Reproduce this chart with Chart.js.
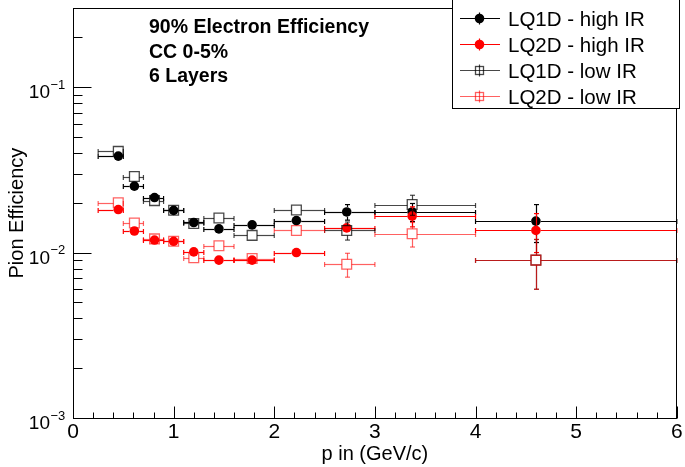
<!DOCTYPE html>
<html><head><meta charset="utf-8">
<script src="https://cdn.jsdelivr.net/npm/chart.js@4.4.1/dist/chart.umd.min.js"></script>
<style>html,body{margin:0;padding:0;background:#fff;}canvas{display:block;}</style>
</head><body>
<canvas id="c" width="685" height="467"></canvas>
<script>
// ---------------- data ----------------
const binEdges = [0.25, 0.5, 0.7, 0.9, 1.1, 1.3, 1.6, 2.0, 2.5, 3.0, 4.0, 6.0];
const pMean    = [0.45, 0.61, 0.81, 1.0, 1.2, 1.45, 1.78, 2.22, 2.72, 3.37, 4.6];

const lq1dHigh    = [0.0383, 0.0252, 0.0215, 0.0180, 0.0152, 0.0139, 0.0147, 0.0156, 0.0176, 0.0176, 0.0155];
const lq1dHighErr = [0.0006, 0.0004, 0.0003, 0.0003, 0.0003, 0.0003, 0.0004, 0.0006, 0.0019, 0.0022, 0.0040];
const lq2dHigh    = [0.0182, 0.0135, 0.0119, 0.0117, 0.0101, 0.0090, 0.0090, 0.0100, 0.0141, 0.0166, 0.0136];
const lq2dHighErr = [0.0004, 0.0003, 0.0003, 0.0003, 0.0003, 0.0003, 0.0004, 0.0005, 0.0009, 0.0023, 0.0036];
const lq1dLow     = [0.0409, 0.0288, 0.0206, 0.0180, 0.0150, 0.0162, 0.0127, 0.0181, 0.0136, 0.0195, 0.0090];
const lq1dLowErr  = [0.0008, 0.0006, 0.0004, 0.0004, 0.0004, 0.0004, 0.0005, 0.0007, 0.0017, 0.0027, 0.0030];
const lq2dLow     = [0.0200, 0.0151, 0.0121, 0.0117, 0.0093, 0.0110, 0.0092, 0.0136, 0.0085, 0.0130, 0.0090];
const lq2dLowErr  = [0.0006, 0.0005, 0.0004, 0.0004, 0.0004, 0.0004, 0.0005, 0.0006, 0.0014, 0.0022, 0.0030];

const seriesLabels = ['LQ1D - high IR', 'LQ2D - high IR', 'LQ1D - low IR', 'LQ2D - low IR'];
const xTickValues = [0, 1, 2, 3, 4, 5, 6];
const yDecades = [0.001, 0.01, 0.1];
const yDecadeExponents = ['\u22123', '\u22122', '\u22121'];
const infoLines = ['90% Electron Efficiency', 'CC 0-5%', '6 Layers'];
const xTitle = 'p in (GeV/c)';
const yTitle = 'Pion Efficiency';

// ---------------- styles ----------------
const FONT = "'Liberation Sans', Arial, Helvetica, sans-serif";
const BLACK = '#000000', RED = '#ff0000';
const BLACK_A = 'rgba(0,0,0,0.72)', RED_A = 'rgba(255,0,0,0.62)';

function toPoints(vals) { return vals.map((v, i) => ({x: pMean[i], y: v})); }

function mkSet(label, vals, errs, color, filled, order) {
  return {
    label, data: toPoints(vals), yErr: errs,
    showLine: false,
    pointStyle: filled ? 'circle' : 'rect',
    pointRadius: filled ? 4.8 : 6.9,
    pointHoverRadius: filled ? 4.8 : 6.9,
    pointBackgroundColor: filled ? color : 'rgba(0,0,0,0)',
    pointBorderColor: color,
    pointBorderWidth: filled ? 0 : 1.3,
    borderColor: color, backgroundColor: color,
    markerHalf: filled ? 4.8 : 4.9,
    filled, order
  };
}

const datasets = [
  mkSet(seriesLabels[0], lq1dHigh, lq1dHighErr, BLACK, true, 4),
  mkSet(seriesLabels[1], lq2dHigh, lq2dHighErr, RED, true, 3),
  mkSet(seriesLabels[2], lq1dLow, lq1dLowErr, BLACK_A, false, 2),
  mkSet(seriesLabels[3], lq2dLow, lq2dLowErr, RED_A, false, 1)
];

function seg(ctx, x1, y1, x2, y2) { ctx.beginPath(); ctx.moveTo(x1, y1); ctx.lineTo(x2, y2); ctx.stroke(); }

const rootStyle = {
  id: 'rootStyle',
  beforeDatasetDraw(chart, args) {
    const ctx = chart.ctx;
    const ds = chart.data.datasets[args.index];
    const meta = args.meta;
    const xs = chart.scales.x, ys = chart.scales.y;
    const g = ds.markerHalf;
    ctx.save();
    ctx.strokeStyle = ds.borderColor;
    ctx.lineWidth = 1.2;
    meta.data.forEach((pt, j) => {
      const px = pt.x, py = Math.round(pt.y) + 0.5;
      const xl = xs.getPixelForValue(binEdges[j]);
      const xr = xs.getPixelForValue(binEdges[j + 1]);
      const v = ds.data[j].y, e = ds.yErr[j];
      const yt = ys.getPixelForValue(v + e);
      const yb = ys.getPixelForValue(v - e);
      seg(ctx, xl, py, px - g, py);
      seg(ctx, px + g, py, xr, py);
      seg(ctx, xl, py - 2.5, xl, py + 2.5);
      seg(ctx, xr, py - 2.5, xr, py + 2.5);
      const vx = Math.round(px) + 0.5;
      if (yt < pt.y - g) { seg(ctx, vx, pt.y - g, vx, yt); seg(ctx, vx - 2.5, yt, vx + 2.5, yt); }
      if (yb > pt.y + g) { seg(ctx, vx, pt.y + g, vx, yb); seg(ctx, vx - 2.5, yb, vx + 2.5, yb); }
    });
    ctx.restore();
  },
  afterDraw(chart) {
    const ctx = chart.ctx;
    const a = chart.chartArea;
    const xs = chart.scales.x, ys = chart.scales.y;
    ctx.save();
    // frame
    ctx.strokeStyle = '#000'; ctx.lineWidth = 1;
    const L = Math.round(a.left) + 0.5, R = Math.round(a.right) - 0.5, T = Math.round(a.top) + 0.5, B = Math.round(a.bottom) + 0.5;
    ctx.strokeRect(L, T, R - L, B - T);
    // x ticks (inward)
    for (let k = 0; k <= 30; k++) {
      const v = k * 0.2;
      const x = Math.round(xs.getPixelForValue(v)) + 0.5;
      const len = (k % 5 === 0) ? 12 : 6;
      seg(ctx, x, B, x, B - len);
    }
    // y ticks (inward)
    yDecades.forEach(d => {
      for (let m = 1; m <= 9; m++) {
        const v = m * d;
        if (v > ys.max * 1.0001) break;
        const y = Math.round(ys.getPixelForValue(v)) + 0.5;
        const len = m === 1 ? 18 : 9;
        seg(ctx, L, y, L + len, y);
      }
    });
    // y tick labels 10^n
    ctx.fillStyle = '#000';
    yDecades.forEach((d, i) => {
      const y = ys.getPixelForValue(d);
      ctx.font = '19px ' + FONT;
      ctx.textAlign = 'right'; ctx.textBaseline = 'alphabetic';
      ctx.fillText('10', 50, y + 11);
      ctx.font = '13px ' + FONT;
      ctx.textAlign = 'left';
      ctx.fillText(yDecadeExponents[i], 50.5, y + 1.5);
    });
    // info text
    ctx.font = 'bold 19.5px ' + FONT;
    ctx.textAlign = 'left'; ctx.textBaseline = 'alphabetic';
    infoLines.forEach((t, i) => ctx.fillText(t, 149, 33 + i * 24.5));
    // legend
    const lx1 = 452.5, lx2 = 679.5, ly1 = -2, ly2 = 108.5;
    ctx.fillStyle = '#fff';
    ctx.fillRect(lx1, ly1, lx2 - lx1, ly2 - ly1);
    ctx.strokeStyle = '#000'; ctx.lineWidth = 1;
    ctx.strokeRect(lx1, ly1, lx2 - lx1, ly2 - ly1);
    chart.data.datasets.forEach((ds, i) => {
      const y = Math.round(18 + i * 26.1) + 0.5;
      const mx = 479.5;
      ctx.strokeStyle = ds.borderColor; ctx.lineWidth = 1.2;
      seg(ctx, 460, y, 500, y);
      seg(ctx, mx, y - 6, mx, y + 6);
      if (ds.filled) {
        ctx.fillStyle = ds.borderColor;
        ctx.beginPath(); ctx.arc(mx, y, 4.8, 0, Math.PI * 2); ctx.fill();
      } else {
        ctx.lineWidth = 1.3;
        ctx.strokeRect(mx - 4, y - 4, 8, 8);
      }
      ctx.fillStyle = '#000';
      ctx.font = '20.5px ' + FONT;
      ctx.textAlign = 'left'; ctx.textBaseline = 'alphabetic';
      ctx.fillText(ds.label, 508, y + 7.3);
    });
    ctx.restore();
  }
};

new Chart(document.getElementById('c'), {
  type: 'scatter',
  data: { datasets },
  options: {
    responsive: false,
    animation: false,
    devicePixelRatio: 1,
    events: [],
    layout: { padding: { top: 6, right: 8, left: 0, bottom: 0 } },
    plugins: { legend: { display: false }, tooltip: { enabled: false } },
    scales: {
      x: {
        type: 'linear', min: 0, max: 6,
        grid: { display: false, drawTicks: false, tickLength: 0 }, border: { display: false },
        afterBuildTicks(scale) { scale.ticks = xTickValues.map(v => ({ value: v })); },
        afterFit(scale) { scale.height = 49; },
        ticks: { color: '#000', font: { family: FONT, size: 21 }, padding: 2, maxRotation: 0, autoSkip: false,
                 callback: (v) => String(v) },
        title: { display: true, text: xTitle, color: '#000', font: { family: FONT, size: 20 }, padding: { top: 0, bottom: 1 } }
      },
      y: {
        type: 'logarithmic', min: 0.001, max: 0.3,
        grid: { display: false }, border: { display: false },
        ticks: { display: false },
        afterFit(scale) { scale.width = 73; },
        title: { display: true, text: yTitle, color: '#000', font: { family: FONT, size: 20 }, padding: { top: 5, bottom: 0 } }
      }
    }
  },
  plugins: [rootStyle]
});
</script>
</body></html>
